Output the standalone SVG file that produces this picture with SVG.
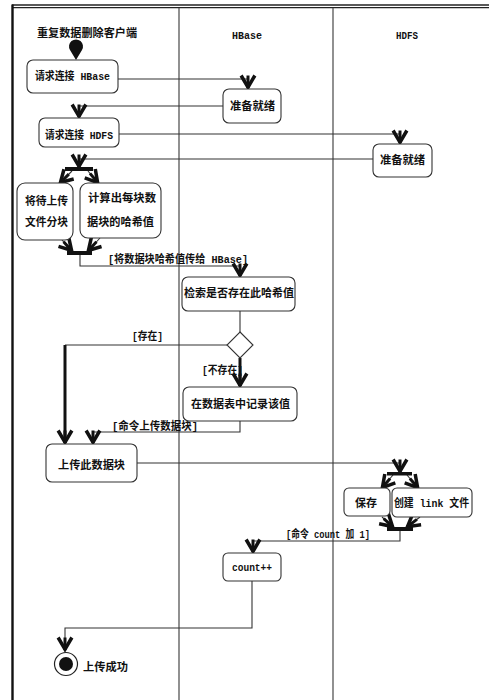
<svg xmlns="http://www.w3.org/2000/svg" width="489" height="700" viewBox="0 0 489 700">
<style>
.t{font-family:"Liberation Mono","Noto Sans CJK SC",monospace;font-size:11px;font-weight:bold;fill:#111}
.box{fill:#fff;stroke:#333;stroke-width:1.1}
.c{fill:none;stroke:#333;stroke-width:1.1}
.thick{fill:none;stroke:#111;stroke-width:3}
.bar{fill:#111}
.lane{stroke:#555;stroke-width:1.3}
</style>
<defs>
<marker id="arr" markerUnits="userSpaceOnUse" markerWidth="20" markerHeight="20" viewBox="-12 -8 14 16" refX="0" refY="0" orient="auto" overflow="visible">
<path d="M-10,-5.5 L-0.5,0 L-10,5.5" fill="none" stroke="#111" stroke-width="2.8" stroke-linejoin="miter"/>
<path d="M-10,0 L0,0" stroke="#111" stroke-width="2.4"/>
</marker>
</defs>
<rect width="489" height="700" fill="#fff"/>
<g id="frame">
<line x1="12" y1="5" x2="489" y2="5" stroke="#222" stroke-width="1.3"/>
<line x1="12" y1="7.6" x2="489" y2="7.6" stroke="#222" stroke-width="1.3"/>
<line x1="12.5" y1="4.5" x2="12.5" y2="700" stroke="#111" stroke-width="2.4"/>
<line class="lane" x1="179" y1="8" x2="179" y2="700"/>
<line class="lane" x1="333" y1="8" x2="333" y2="700"/>
<text class="t" x="37" y="37" textLength="100" lengthAdjust="spacingAndGlyphs">重复数据删除客户端</text>
<text class="t" x="232" y="39" textLength="30" lengthAdjust="spacingAndGlyphs">HBase</text>
<text class="t" x="396" y="39" textLength="22" lengthAdjust="spacingAndGlyphs">HDFS</text>
</g>
<g id="connectors">
<path class="c" d="M118,79 H248 V88" marker-end="url(#arr)"/>
<path class="c" d="M223,106 H79 V117" marker-end="url(#arr)"/>
<path class="c" d="M119,134 H400 V143" marker-end="url(#arr)"/>
<path class="c" d="M373,159 H79 V167" marker-end="url(#arr)"/>
<path class="c" d="M72,171 L60,183" marker-end="url(#arr)"/>
<path class="c" d="M88,171 L98,183" marker-end="url(#arr)"/>
<path class="c" d="M62,240 L72,251" marker-end="url(#arr)"/>
<path class="c" d="M100,238 L88,251" marker-end="url(#arr)"/>
<path class="c" d="M80,255 V266 H240 V276" marker-end="url(#arr)"/>
<path class="c" d="M240,311 V332"/>
<path class="c" d="M227,345 H65"/>
<path class="thick" d="M65,345 V443" marker-end="url(#arr)"/>
<path class="thick" d="M240,358 V386" marker-end="url(#arr)"/>
<path class="c" d="M240,421 V432 H93 V443" marker-end="url(#arr)"/>
<path class="c" d="M137,463 H400 V472" marker-end="url(#arr)"/>
<path class="c" d="M393,475 L382,488" marker-end="url(#arr)"/>
<path class="c" d="M407,475 L418,488" marker-end="url(#arr)"/>
<path class="c" d="M382,517 L393,527" marker-end="url(#arr)"/>
<path class="c" d="M420,517 L407,527" marker-end="url(#arr)"/>
<path class="c" d="M400,531 V541 H253 V552" marker-end="url(#arr)"/>
<path class="c" d="M252,581 V628 H65 V650" marker-end="url(#arr)"/>
<text class="t" x="108" y="263" textLength="140" lengthAdjust="spacingAndGlyphs">[将数据块哈希值传给 HBase]</text>
<text class="t" x="132" y="340" textLength="31" lengthAdjust="spacingAndGlyphs">[存在]</text>
<text class="t" x="202" y="374" textLength="41" lengthAdjust="spacingAndGlyphs">[不存在]</text>
<text class="t" x="112" y="430" textLength="86" lengthAdjust="spacingAndGlyphs">[命令上传数据块]</text>
<text class="t" x="286" y="538" textLength="84" lengthAdjust="spacingAndGlyphs">[命令 count 加 1]</text>
</g>
<g id="start"><path d="M76,60 L70,50 A7,7 0 1 1 82,50 Z" fill="#111"/></g>
<g id="req-hbase"><rect class="box" x="27" y="60" width="91" height="33" rx="6"/><text class="t" x="35" y="80" textLength="75" lengthAdjust="spacingAndGlyphs">请求连接 HBase</text></g>
<g id="hbase-ready"><rect class="box" x="223" y="89" width="58" height="34" rx="6"/><text class="t" x="230" y="110" textLength="45" lengthAdjust="spacingAndGlyphs">准备就绪</text></g>
<g id="req-hdfs"><rect class="box" x="39" y="118" width="80" height="29" rx="6"/><text class="t" x="45" y="139" textLength="68" lengthAdjust="spacingAndGlyphs">请求连接 HDFS</text></g>
<g id="hdfs-ready"><rect class="box" x="373" y="144" width="59" height="33" rx="6"/><text class="t" x="380" y="164" textLength="45" lengthAdjust="spacingAndGlyphs">准备就绪</text></g>
<g id="fork1"><rect class="bar" x="65" y="167" width="28" height="4"/></g>
<g id="split"><rect class="box" x="17" y="183" width="56" height="57" rx="8"/><text class="t" x="25" y="205" textLength="43" lengthAdjust="spacingAndGlyphs">将待上传</text><text class="t" x="25" y="226" textLength="43" lengthAdjust="spacingAndGlyphs">文件分块</text></g>
<g id="hash"><rect class="box" x="80" y="183" width="81" height="55" rx="8"/><text class="t" x="88" y="202" textLength="68" lengthAdjust="spacingAndGlyphs">计算出每块数</text><text class="t" x="87" y="226" textLength="67" lengthAdjust="spacingAndGlyphs">据块的哈希值</text></g>
<g id="join1"><rect class="bar" x="67" y="251" width="25" height="4"/></g>
<g id="lookup"><rect class="box" x="182" y="277" width="113" height="34" rx="6"/><text class="t" x="184" y="297" textLength="110" lengthAdjust="spacingAndGlyphs">检索是否存在此哈希值</text></g>
<g id="decision"><path d="M240,332 L253,345 L240,358 L227,345 Z" fill="#fff" stroke="#333" stroke-width="1.1"/></g>
<g id="record"><rect class="box" x="183" y="387" width="114" height="34" rx="6"/><text class="t" x="191" y="408" textLength="99" lengthAdjust="spacingAndGlyphs">在数据表中记录该值</text></g>
<g id="upload"><rect class="box" x="46" y="444" width="91" height="38" rx="6"/><text class="t" x="58" y="469" textLength="67" lengthAdjust="spacingAndGlyphs">上传此数据块</text></g>
<g id="fork2"><rect class="bar" x="387" y="472" width="25" height="3.5"/></g>
<g id="save"><rect class="box" x="344" y="488" width="46" height="28" rx="5"/><text class="t" x="355" y="507" textLength="22" lengthAdjust="spacingAndGlyphs">保存</text></g>
<g id="link"><rect class="box" x="392" y="488" width="80" height="29" rx="5"/><text class="t" x="394" y="507" textLength="75" lengthAdjust="spacingAndGlyphs">创建 link 文件</text></g>
<g id="join2"><rect class="bar" x="387" y="527" width="26" height="4"/></g>
<g id="count"><rect class="box" x="223" y="553" width="58" height="28" rx="5"/><text class="t" x="232" y="571" textLength="40" lengthAdjust="spacingAndGlyphs">count++</text></g>
<g id="end"><circle cx="66" cy="664" r="11.5" fill="#fff" stroke="#222" stroke-width="1.2"/><circle cx="66" cy="664" r="7" fill="#111"/><text class="t" x="83" y="671" textLength="45" lengthAdjust="spacingAndGlyphs">上传成功</text></g>
</svg>
